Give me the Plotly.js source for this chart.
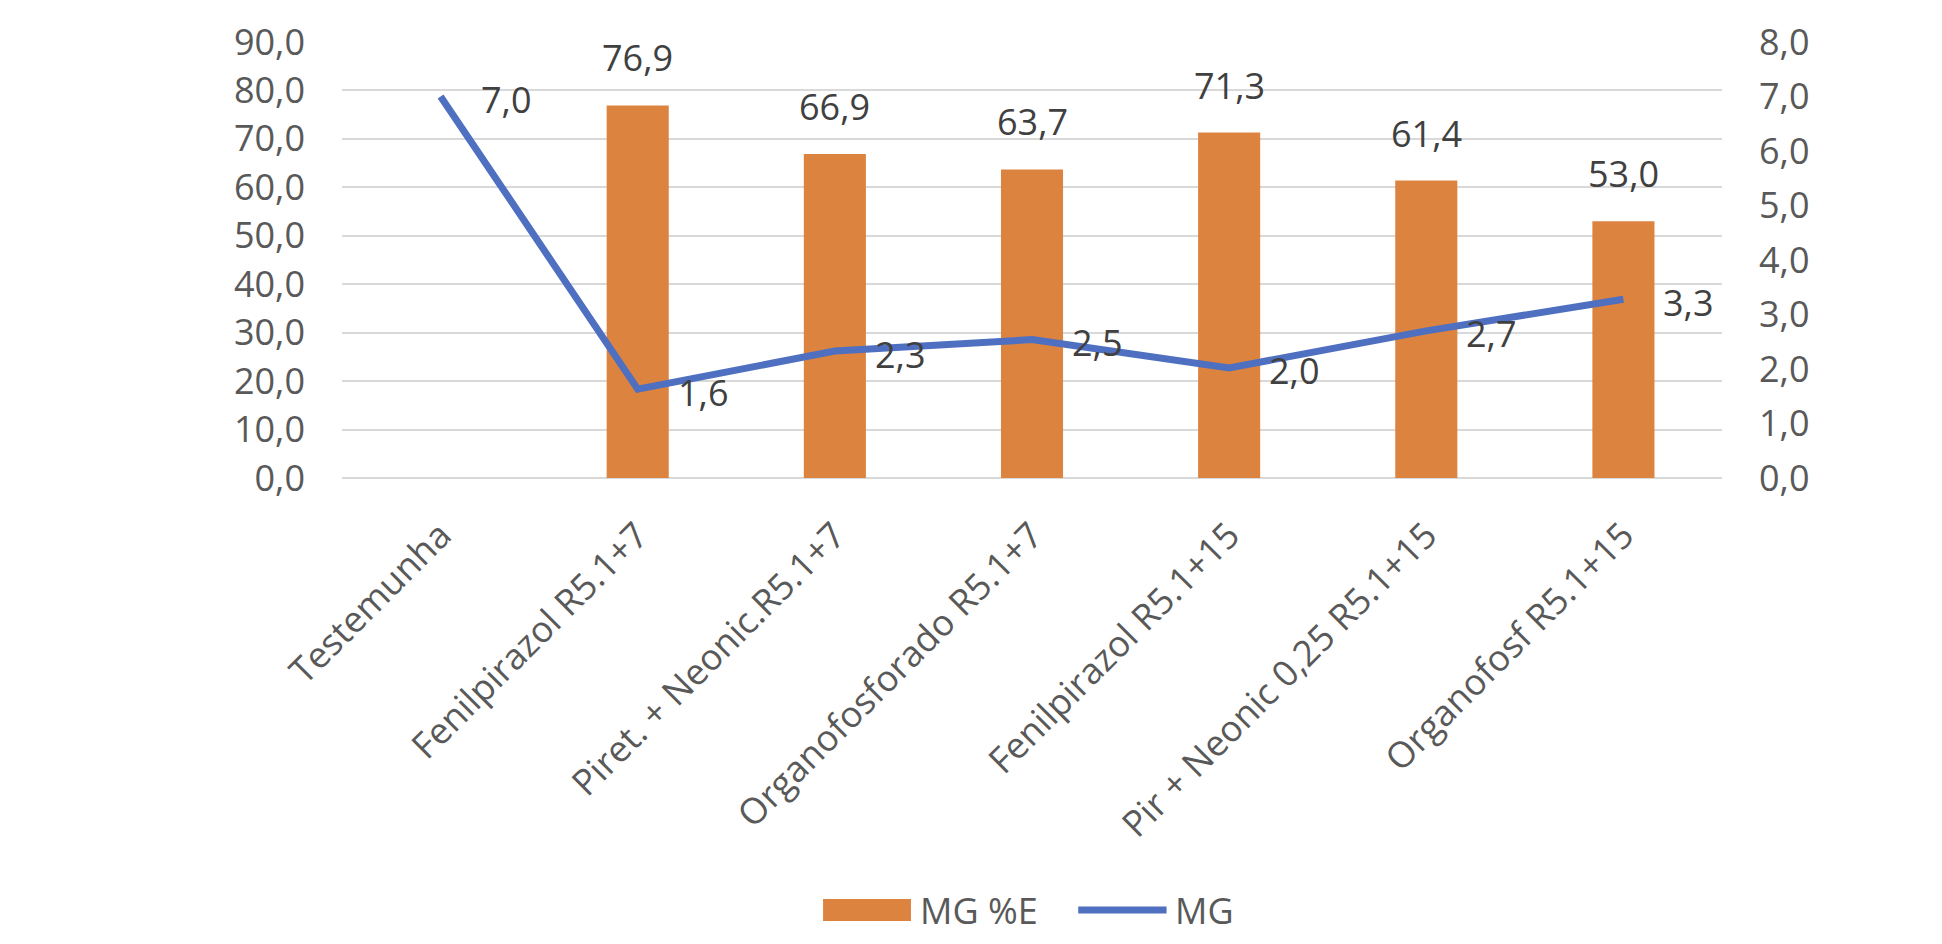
<!DOCTYPE html>
<html>
<head>
<meta charset="utf-8">
<script src="https://cdn.plot.ly/plotly-3.0.1.min.js"></script>
<style>
html,body{margin:0;padding:0;background:#fff;}
#chart{width:1942px;height:944px;}
</style>
</head>
<body>
<div id="chart"></div>
<script>
var categories = ["Testemunha", "Fenilpirazol R5.1+7", "Piret. + Neonic.R5.1+7", "Organofosforado R5.1+7", "Fenilpirazol R5.1+15", "Pir + Neonic 0,25 R5.1+15", "Organofosf R5.1+15"];
var mgPctE = [null, 76.9, 66.9, 63.7, 71.3, 61.4, 53.0];
var mg = [7.0, 1.63, 2.33, 2.54, 2.02, 2.70, 3.28];
var leftTicks = [0, 10, 20, 30, 40, 50, 60, 70, 80, 90];
var rightTicks = [0, 1, 2, 3, 4, 5, 6, 7, 8];
var seriesNames = ["MG %E", "MG"];

var FONT = "Open Sans, Arial, sans-serif";
var FS = 36;
var BAR_COLOR = '#DD8340';
var LINE_COLOR = '#4F6FC0';
var fmt = function(v){ return v.toFixed(1).replace('.', ','); };

var traces = [
  {
    type: 'bar', name: seriesNames[0], x: categories, y: mgPctE,
    marker: {color: BAR_COLOR}, yaxis: 'y', hoverinfo: 'none', showlegend: false
  },
  {
    type: 'scatter', mode: 'lines', name: seriesNames[1], x: categories, y: mg,
    line: {color: LINE_COLOR, width: 7}, yaxis: 'y2', hoverinfo: 'none', showlegend: false
  }
];

var annotations = [];
categories.forEach(function(c, i){
  if (mgPctE[i] !== null) {
    annotations.push({
      x: c, y: mgPctE[i], xref: 'x', yref: 'y', text: fmt(mgPctE[i]),
      showarrow: false, xanchor: 'center', yanchor: 'bottom', yshift: 21,
      font: {family: FONT, size: FS, color: '#404040'}
    });
  }
  annotations.push({
    x: c, y: mg[i], xref: 'x', yref: 'y2', text: fmt(mg[i]),
    showarrow: false, xanchor: 'left', yanchor: 'middle', xshift: 38, yshift: -3,
    font: {family: FONT, size: FS, color: '#404040'}
  });
});

// legend (drawn in paper coordinates to match the wide swatches)
var LEG_Y = -0.991;
annotations.push({
  xref: 'paper', yref: 'paper', x: 0.4175, y: LEG_Y, text: seriesNames[0],
  showarrow: false, xanchor: 'left', yanchor: 'middle',
  font: {family: FONT, size: FS, color: '#595959'}
});
annotations.push({
  xref: 'paper', yref: 'paper', x: 0.602, y: LEG_Y, text: seriesNames[1],
  showarrow: false, xanchor: 'left', yanchor: 'middle',
  font: {family: FONT, size: FS, color: '#595959'}
});
var shapes = [
  {type: 'rect', xref: 'paper', yref: 'paper', x0: 0.3486, x1: 0.4123, y0: -1.016, y1: -0.9656,
   fillcolor: BAR_COLOR, line: {width: 0}},
  {type: 'line', xref: 'paper', yref: 'paper', x0: 0.5335, x1: 0.5975, y0: LEG_Y, y1: LEG_Y,
   line: {color: LINE_COLOR, width: 7}}
];

var layout = {
  width: 1942, height: 944,
  margin: {l: 342, r: 220, t: 42, b: 466, pad: 0},
  paper_bgcolor: '#ffffff', plot_bgcolor: '#ffffff',
  separators: ',.',
  font: {family: FONT, size: FS, color: '#595959'},
  bargap: 0.685,
  showlegend: false,
  xaxis: {
    type: 'category', tickangle: -45, showgrid: false, zeroline: false,
    showline: false, ticks: '', ticklabelstandoff: 28,
    tickfont: {family: FONT, size: FS, color: '#595959'}
  },
  yaxis: {
    range: [0, 90], tickvals: leftTicks, tickformat: '.1f',
    showgrid: true, gridcolor: '#D9D9D9', gridwidth: 2,
    zeroline: true, zerolinecolor: '#D9D9D9', zerolinewidth: 2,
    showline: false, ticks: '', ticklabelstandoff: 36,
    tickfont: {family: FONT, size: FS, color: '#595959'}
  },
  yaxis2: {
    range: [0, 8], tickvals: rightTicks, tickformat: '.1f', overlaying: 'y', side: 'right',
    showgrid: false, zeroline: false, showline: false, ticks: '', ticklabelstandoff: 36,
    tickfont: {family: FONT, size: FS, color: '#595959'}
  },
  annotations: annotations,
  shapes: shapes
};

Plotly.newPlot('chart', traces, layout, {displayModeBar: false, staticPlot: true});
</script>
</body>
</html>
